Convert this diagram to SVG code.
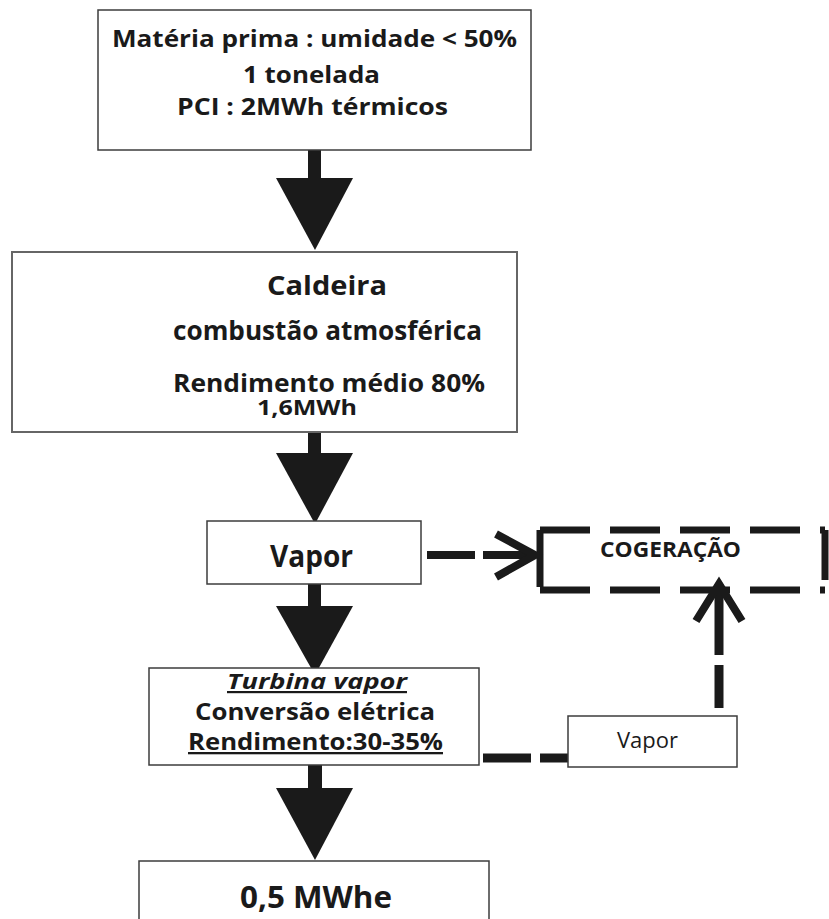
<svg xmlns="http://www.w3.org/2000/svg" width="829" height="919" viewBox="0 0 829 919">
<style>
.box{fill:#fff;stroke:#3c3c3c;stroke-width:1.5}
.t{font-family:"Open Sans","Liberation Sans",sans-serif;font-weight:bold;fill:#1a1a1a;text-anchor:middle}
.r{font-family:"Open Sans","Liberation Sans",sans-serif;font-weight:normal;fill:#1a1a1a;text-anchor:middle}
.blk{fill:#1a1a1a}
.dash{fill:none;stroke:#1a1a1a}
</style>
<rect width="829" height="919" fill="#fff"/>
<g id="connectors">
  <g id="arrow1" class="blk"><rect x="308" y="150" width="13" height="29"/><polygon points="276,178 353,178 315,250"/></g>
  <g id="arrow2" class="blk"><rect x="308" y="432" width="13" height="22"/><polygon points="276,453 353,453 315,524"/></g>
  <g id="arrow3" class="blk"><rect x="308" y="584" width="13" height="23"/><polygon points="276,606 353,606 315,675"/></g>
  <g id="arrow4" class="blk"><rect x="308" y="765" width="14" height="24"/><polygon points="276,788 353,788 315,860"/></g>
  <g id="vapor-to-cog" class="dash">
    <path d="M427,555 H475 M483,555 H530" stroke-width="8"/>
    <path d="M496,534 L535,555 L496,577" stroke-width="8" stroke-linejoin="miter"/>
  </g>
  <g id="turbina-to-vapor" class="dash">
    <path d="M483,758 H531 M540,758 H568" stroke-width="9"/>
  </g>
  <g id="vapor-to-cog2" class="dash">
    <path d="M719,708 V665 M719,655 V585" stroke-width="9"/>
    <path d="M696,621 L719,584 L742,621" stroke-width="8"/>
  </g>
</g>
<g id="node-materia">
  <rect class="box" x="98" y="10" width="433" height="140"/>
  <text class="t" x="314.5" y="47" font-size="24" textLength="405" lengthAdjust="spacingAndGlyphs">Matéria prima : umidade &lt; 50%</text>
  <text class="t" x="311.5" y="83" font-size="24" textLength="137" lengthAdjust="spacingAndGlyphs">1 tonelada</text>
  <text class="t" x="312.5" y="115" font-size="24" textLength="271" lengthAdjust="spacingAndGlyphs">PCI : 2MWh térmicos</text>
</g>
<g id="node-caldeira">
  <rect class="box" x="12" y="252" width="505" height="180" style="stroke:#666;stroke-width:2"/>
  <text class="t" x="327" y="295" font-size="27" textLength="120" lengthAdjust="spacingAndGlyphs">Caldeira</text>
  <text class="t" x="327.5" y="340" font-size="27" textLength="309" lengthAdjust="spacingAndGlyphs">combustão atmosférica</text>
  <text class="t" x="329" y="392" font-size="25" textLength="312" lengthAdjust="spacingAndGlyphs">Rendimento médio 80%</text>
  <text class="t" x="307" y="415" font-size="22" textLength="100" lengthAdjust="spacingAndGlyphs">1,6MWh</text>
</g>
<g id="node-vapor">
  <rect class="box" x="207" y="521" width="214" height="63"/>
  <text class="t" x="311.5" y="567" font-size="30" textLength="83" lengthAdjust="spacingAndGlyphs">Vapor</text>
</g>
<g id="node-cogeracao">
  <path class="dash" d="M540,590 H825" stroke-width="7" stroke-dasharray="50 20"/>
  <path class="dash" d="M540,587 V530" stroke-width="7"/>
  <path class="dash" d="M540,530 H825 M825,530 V587" stroke-width="7" stroke-dasharray="50 20"/>
  <text class="t" x="670.5" y="557" font-size="22" textLength="141" lengthAdjust="spacingAndGlyphs">COGERAÇÃO</text>
</g>
<g id="node-turbina">
  <rect class="box" x="149" y="668" width="330" height="97"/>
  <text class="t" x="317" y="689" font-size="22" font-style="italic" text-decoration="underline" textLength="180" lengthAdjust="spacingAndGlyphs">Turbina vapor</text>
  <text class="t" x="315" y="720" font-size="23" textLength="240" lengthAdjust="spacingAndGlyphs">Conversão elétrica</text>
  <text class="t" x="315.5" y="750" font-size="23" text-decoration="underline" textLength="255" lengthAdjust="spacingAndGlyphs">Rendimento:30-35%</text>
</g>
<g id="node-vapor2">
  <rect class="box" x="568" y="716" width="169" height="51"/>
  <text class="r" x="647.5" y="748" font-size="22" textLength="61" lengthAdjust="spacingAndGlyphs">Vapor</text>
</g>
<g id="node-output">
  <rect class="box" x="139" y="861" width="350" height="80"/>
  <text class="t" x="316" y="908" font-size="30" textLength="152" lengthAdjust="spacingAndGlyphs">0,5 MWhe</text>
</g>
</svg>
